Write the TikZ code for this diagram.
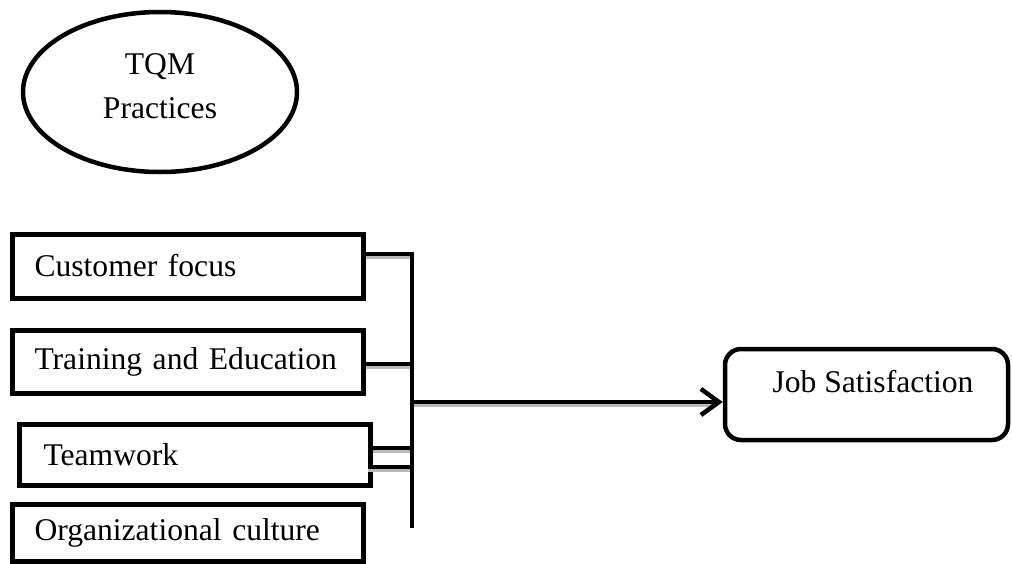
\documentclass[tikz,border=0pt]{standalone}
\usepackage{fontspec}
\setmainfont{Liberation Serif}
\usetikzlibrary{arrows.meta,shapes.geometric}
\begin{document}
\begin{tikzpicture}[x=1pt,y=-1pt,
  every node/.style={font=\fontsize{31.6}{44}\selectfont},
  factor/.style={draw,line width=5pt,rectangle,minimum width=351pt,
    text width=306pt,inner xsep=22.5pt,inner ysep=0pt,align=left},
  wire/.style={line width=4.5pt},
  shadowline/.style={line width=3pt,gray!55},
  arrowline/.style={line width=4.5pt,-{Straight Barb[length=18pt,width=26pt]}}]
\useasboundingbox (0,0) rectangle (1012,563);
% ellipse
\node[draw,ellipse,line width=4.5pt,minimum width=274pt,minimum height=160pt] (tqm) at (160,92) {};
\node[align=center] (tqmtext) at (160,86) {TQM\\Practices};
% factor boxes
\node[factor,minimum height=64pt] (b1) at (187.5,266) {Customer focus};
\node[factor,minimum height=63pt] (b2) at (187.5,361.5) {Training and Education};
\node[factor,minimum height=61pt] (b3) at (194.5,454.5) {\hspace{2pt}Teamwork};
\node[factor,minimum height=57pt] (b4) at (187.5,532.5) {Organizational culture};
% job satisfaction
\node[draw,line width=4.5pt,rounded corners=16pt,minimum width=283pt,minimum height=91pt] (job) at (866.5,394.5) {};
\node (jobtext) at (873,382) {Job Satisfaction};
% bus
\coordinate (bustop) at (412,252);
\coordinate (busbot) at (412,528);
\coordinate (busmid) at (412,402);
% shadows
\draw[shadowline] ([yshift=9pt]b1.east) -- ([yshift=9pt]b1.east -| bustop);
\draw[shadowline] ([yshift=-5.5pt]b2.east) -- ([yshift=-5.5pt]b2.east -| bustop);
\draw[shadowline] ([yshift=3.5pt]b3.east) -- ([yshift=3.5pt]b3.east -| bustop);
\draw[shadowline] ([xshift=-5pt,yshift=-15.5pt]b3.east) -- ([yshift=-15.5pt]b3.east -| bustop);
\draw[shadowline] ([yshift=-3pt]busmid) -- ([yshift=-3pt,xshift=-6pt]busmid -| job.west);
% connectors
\draw[wire] (bustop) -- (busbot);
\draw[wire] ([yshift=12pt]b1.east) -- ([yshift=12pt]b1.east -| bustop);
\draw[wire] ([yshift=-2.5pt]b2.east) -- ([yshift=-2.5pt]b2.east -| bustop);
\draw[wire] ([yshift=6.5pt]b3.east) -- ([yshift=6.5pt]b3.east -| bustop);
\draw[wire] ([xshift=-5pt,yshift=-12.5pt]b3.east) -- ([yshift=-12.5pt]b3.east -| bustop);
\draw[arrowline] (busmid) -- (busmid -| job.west);
\end{tikzpicture}
\end{document}
